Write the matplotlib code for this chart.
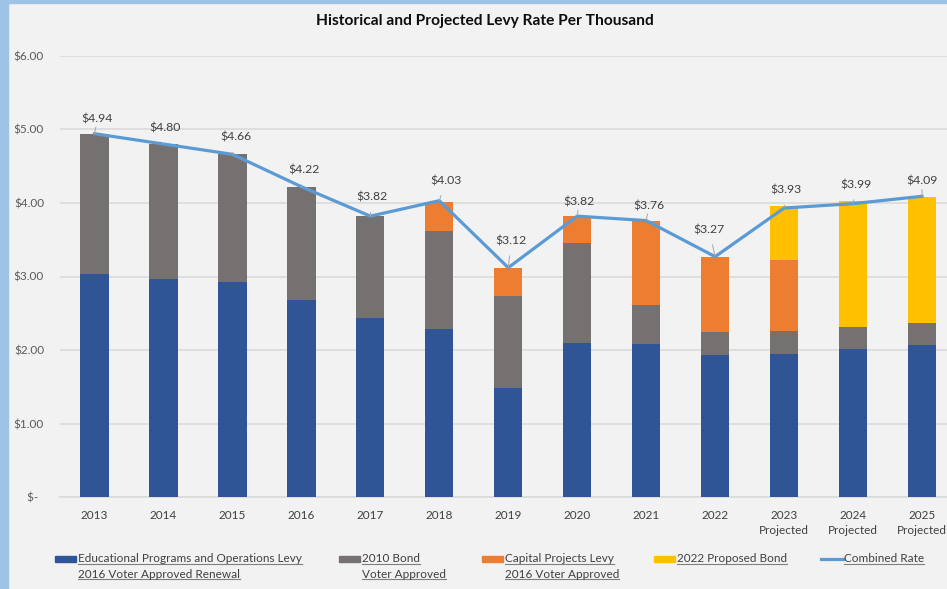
import matplotlib
matplotlib.use("Agg")
import matplotlib.pyplot as plt
import matplotlib.patches as mpatches
from matplotlib.lines import Line2D
import numpy as np

# data
years = ["2013", "2014", "2015", "2016", "2017", "2018", "2019",
         "2020", "2021", "2022", "2023\nProjected", "2024\nProjected", "2025\nProjected"]
edu_levy = [3.04, 2.97, 2.93, 2.68, 2.44, 2.29, 1.49, 2.10, 2.08, 1.93, 1.95, 2.01, 2.07]
bond_2010 = [1.90, 1.83, 1.73, 1.54, 1.38, 1.33, 1.24, 1.36, 0.53, 0.31, 0.31, 0.30, 0.30]
capital_levy = [0, 0, 0, 0, 0, 0.39, 0.39, 0.36, 1.15, 1.03, 0.97, 0, 0]
bond_2022 = [0, 0, 0, 0, 0, 0, 0, 0, 0, 0, 0.73, 1.72, 1.71]
combined = [4.94, 4.80, 4.66, 4.22, 3.82, 4.03, 3.12, 3.82, 3.76, 3.27, 3.93, 3.99, 4.09]
yticks = [0, 1, 2, 3, 4, 5, 6]

# label offsets (pixels) for the value labels
label_off = [(3, 15), (2, 16), (4, 17), (3, 17), (2, 19), (7, 20), (3, 27),
             (2, 14), (3, 15), (-6, 27), (2, 18), (3, 19), (0, 15)]

BLUE = "#2F5597"
GRAY = "#767171"
ORANGE = "#ED7D31"
YELLOW = "#FFC000"
LINE = "#5B9BD5"
BG = "#F2F2F2"
TXT = "#404040"

plt.rcParams["font.family"] = ["Lato", "DejaVu Sans"]

W, H = 947, 589
fig = plt.figure(figsize=(W / 100, H / 100), dpi=100, facecolor=BG)
ax = fig.add_axes([60 / W, (H - 497.3) / H, 896.5 / W, 441.6 / H])
ax.set_facecolor(BG)

x = np.arange(len(years))
bw = 0.41
bottom = np.zeros(len(years))
for vals, color in [(edu_levy, BLUE), (bond_2010, GRAY), (capital_levy, ORANGE), (bond_2022, YELLOW)]:
    vals = np.array(vals)
    ax.bar(x, vals, bw, bottom=bottom, color=color, zorder=3)
    bottom += vals

ax.plot(x, combined, color=LINE, lw=2.3, zorder=4, solid_joinstyle="miter")

for i, v in enumerate(combined):
    dx, dy = label_off[i]
    ax.annotate(f"${v:.2f}", (x[i], v), xytext=(dx * 0.72, dy * 0.72), textcoords="offset points",
                ha="center", va="center", fontsize=8.8, color=TXT, zorder=5,
                arrowprops=dict(arrowstyle="-", color="#A6A6A6", lw=0.7, shrinkA=5, shrinkB=0))

ax.set_xlim(-0.5, 12.5)
ax.set_ylim(0, 6)
ax.set_yticks(yticks)
ax.set_yticklabels(["$-  " if t == 0 else f"${t:.2f}" for t in yticks], color="#595959", fontsize=8.5)
ax.set_xticks(x)
ax.set_xticklabels(years, color=TXT, fontsize=8.5, linespacing=1.45, va="top")
ax.tick_params(axis="y", length=0, pad=11.5)
ax.tick_params(axis="x", length=0, pad=9)
ax.grid(axis="y", color="#D9D9D9", lw=1.1, zorder=0)
for s in ["top", "right", "left"]:
    ax.spines[s].set_visible(False)
ax.spines["bottom"].set_color("#D9D9D9")
ax.spines["bottom"].set_linewidth(1.1)

fig.text(485 / W, 1 - 21 / H, "Historical and Projected Levy Rate Per Thousand",
         ha="center", va="center", fontsize=11.2, fontweight="bold", color="#0D0D0D")

# window border
fig.patches.append(mpatches.Rectangle((0, 0), 8 / W, 1, transform=fig.transFigure,
                                      color="#9DC3E6", zorder=10))
fig.patches.append(mpatches.Rectangle((0, 1 - 2.5 / H), 1, 2.5 / H, transform=fig.transFigure,
                                      color="#9DC3E6", zorder=10))

# legend, drawn by hand to get the two-line underlined entries
legend_items = [
    ("patch", BLUE, 55, ["Educational Programs and Operations Levy", "2016 Voter Approved Renewal"]),
    ("patch", GRAY, 339, ["2010 Bond", "Voter Approved"]),
    ("patch", ORANGE, 482, ["Capital Projects Levy", "2016 Voter Approved"]),
    ("patch", YELLOW, 654, ["2022 Proposed Bond"]),
    ("line", LINE, 821, ["Combined Rate"]),
]
texts = []
for kind, color, px, lines in legend_items:
    if kind == "patch":
        fig.patches.append(mpatches.Rectangle((px / W, 1 - 562 / H), 21 / W, 6 / H,
                                              transform=fig.transFigure, color=color))
    else:
        fig.lines.append(Line2D([px / W, (px + 22) / W], [1 - 559 / H] * 2,
                                transform=fig.transFigure, color=color, lw=2.3))
    for j, line in enumerate(lines):
        t = fig.text((px + 23) / W, 1 - (559 + 15 * j) / H, line, ha="left", va="center",
                     fontsize=8.5, color=TXT)
        texts.append(t)

fig.canvas.draw()
r = fig.canvas.get_renderer()
for t in texts:
    bb = t.get_window_extent(r)
    yline = bb.y0 + 0.5
    fig.lines.append(Line2D([bb.x0 / W, bb.x1 / W], [yline / H] * 2, transform=fig.transFigure,
                            color="#7F7F7F", lw=0.8))

fig.savefig("out.png", dpi=100, facecolor=BG)
